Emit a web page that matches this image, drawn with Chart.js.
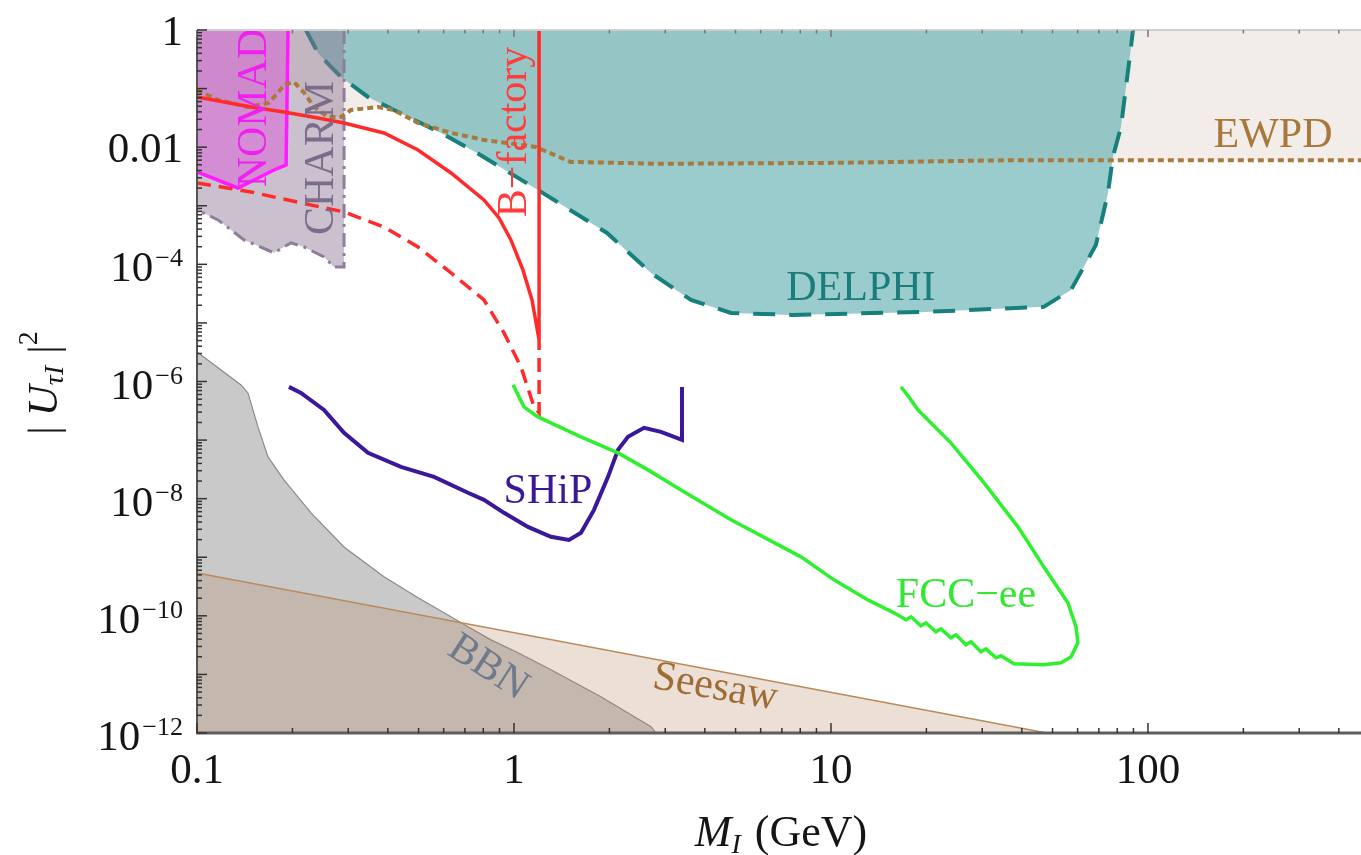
<!DOCTYPE html>
<html>
<head>
<meta charset="utf-8">
<title>|U_tau|^2 vs M</title>
<script src="https://cdn.jsdelivr.net/npm/chart.js@4.4.0/dist/chart.umd.min.js"></script>
<style>
  html, body { margin: 0; padding: 0; background: #fff; }
  #box { position: relative; width: 1361px; height: 855px; }
</style>
</head>
<body>
<div id="box"><canvas id="plot"></canvas></div>
<script>
// Datos: masa M (GeV) y |U|^2

// EWPD (línea punteada, región excluida por encima)
const ewpdMass = [0.1, 0.1165, 0.145, 0.168, 0.18, 0.188, 0.202, 0.218, 0.234, 0.259, 0.285, 0.306, 0.372, 0.418, 0.498, 0.633, 0.804, 1.17, 1.51, 2.89, 10.5, 37.5, 100, 500];
const ewpdU2 = [0.0947, 0.0639, 0.0485, 0.0568, 0.0841, 0.115, 0.13, 0.0841, 0.0485, 0.0328, 0.0328, 0.0431, 0.0485, 0.0431, 0.0259, 0.0175, 0.0133, 0.0101, 0.0056, 0.0052, 0.0054, 0.006, 0.006, 0.006];

// DELPHI (contorno cerrado)
const delphiMass = [0.2207, 0.2408, 0.2647, 0.2846, 0.3462, 0.4183, 0.5884, 0.7643, 1.19, 1.966, 2.705, 3.617, 4.836, 7.53, 19.8, 46.9, 57.2, 68.5, 74.8, 77.5, 82.2, 88.4, 89.7];
const delphiU2 = [1, 0.405, 0.2337, 0.1578, 0.0719, 0.0431, 0.01747, 0.00796, 0.00186, 3.43e-4, 7.13e-5, 2.47e-5, 1.48e-5, 1.37e-5, 1.54e-5, 1.88e-5, 3.66e-5, 2.14e-4, 1.65e-3, 6.8e-3, 0.0221, 0.513, 1];

// CHARM
const charmMass = [0.291, 0.291, 0.2704, 0.2516, 0.2176, 0.1979, 0.188, 0.1749, 0.1407, 0.1165, 0.1, 0.09, 0.09];
const charmU2 = [1, 9.03e-5, 9.03e-5, 1.34e-4, 1.98e-4, 2.32e-4, 1.98e-4, 1.57e-4, 2.61e-4, 5.73e-4, 8.48e-4, 8.48e-4, 1];

// NOMAD
const nomadMass = [0.1937, 0.191, 0.1749, 0.1347, 0.1, 0.09, 0.09];
const nomadU2 = [1, 4.97e-3, 4.08e-3, 2.01e-3, 3.77e-3, 3.77e-3, 1];

// B-factory (continua y discontinua)
const bfacMass = [0.1, 0.148, 0.188, 0.2408, 0.2909, 0.3889, 0.498, 0.633, 0.804, 0.897, 0.978, 1.067, 1.14, 1.2, 1.2];
const bfacU2 = [0.0719, 0.0485, 0.0399, 0.0315, 0.0259, 0.01747, 0.00896, 3.63e-3, 1.256e-3, 6.19e-4, 2.61e-4, 8.02e-5, 2.47e-5, 5.1e-6, 1];
const bfacDashMass = [0.1, 0.148, 0.2128, 0.2909, 0.3889, 0.498, 0.633, 0.804, 0.93, 1.052, 1.157, 1.2, 1.2];
const bfacDashU2 = [2.45e-3, 1.72e-3, 1.12e-3, 7.84e-4, 4.35e-4, 1.98e-4, 7.13e-5, 2.47e-5, 6.75e-6, 1.77e-6, 3.69e-7, 2.91e-7, 5.1e-6];

// FCC-ee
const fccMass = [0.993, 1.075, 1.19, 1.627, 2.128, 2.647, 3.364, 4.836, 8.04, 10.22, 13.08, 15.8, 17.25, 17.88, 19.22, 19.93, 21.44, 22.23, 23.9, 24.8, 26.66, 27.65, 29.73, 30.83, 33.15, 34.38, 37.78, 46.9, 53.2, 57.2, 60.1, 59.3, 55.9, 46.9, 38.9, 30.4, 23.9, 18.8, 17.6, 16.63];
const fccU2 = [8.75e-7, 3.69e-7, 2.49e-7, 1.135e-7, 6.05e-8, 3.1e-8, 1.41e-8, 4.35e-9, 1.016e-9, 4.11e-10, 1.87e-10, 1.125e-10, 8.55e-11, 9.62e-11, 6.75e-11, 7.6e-11, 5.33e-11, 6.0e-11, 4.21e-11, 4.74e-11, 3.2e-11, 3.6e-11, 2.43e-11, 2.73e-11, 1.92e-11, 2.08e-11, 1.52e-11, 1.46e-11, 1.58e-11, 2.0e-11, 3.46e-11, 6.49e-11, 1.67e-10, 6.86e-10, 3.3e-9, 1.86e-8, 8.96e-8, 3.28e-7, 5.46e-7, 8.09e-7];

// SHiP
const shipMass = [0.195, 0.2128, 0.2516, 0.2909, 0.3462, 0.44, 0.5595, 0.716, 0.804, 0.93, 1.107, 1.308, 1.491, 1.627, 1.788, 1.98, 2.128, 2.289, 2.572, 2.909, 3.388, 3.388];
const shipU2 = [8.09e-7, 6.38e-7, 3.28e-7, 1.33e-7, 6.05e-8, 3.49e-8, 2.36e-8, 1.26e-8, 9.55e-9, 5.73e-9, 3.3e-9, 2.23e-9, 1.98e-9, 2.61e-9, 6.44e-9, 2.36e-8, 6.81e-8, 1.135e-7, 1.62e-7, 1.38e-7, 1.01e-7, 8.09e-7];

// BBN (región por debajo)
const bbnMass = [0.1, 0.1377, 0.1448, 0.1557, 0.1675, 0.188, 0.2289, 0.2909, 0.3889, 0.498, 0.6015, 0.716, 0.846, 1.03, 1.308, 1.88, 2.705, 2.85];
const bbnU2 = [3.2e-6, 8.75e-7, 6.38e-7, 1.68e-7, 5.17e-8, 2.09e-8, 5.73e-9, 1.5e-9, 4.63e-10, 2.03e-10, 1.125e-10, 6.49e-11, 3.89e-11, 2.34e-11, 1.2e-11, 4.15e-12, 1.28e-12, 9e-13];

// Seesaw (región por debajo)
const seesawMass = [0.1, 48];
const seesawU2 = [5.4e-10, 1e-12];

// Ejes
const xTickVals = [0.1, 1, 10, 100];
const xTickText = ['0.1', '1', '10', '100'];
const yTickVals = [1, 1e-2, 1e-4, 1e-6, 1e-8, 1e-10, 1e-12];
const yTickBase = ['1', '0.01', '10', '10', '10', '10', '10'];
const yTickExp = ['', '', '\u22124', '\u22126', '\u22128', '\u221210', '\u221212'];

// Etiquetas de las curvas (ancladas en coordenadas de datos)
const curveLabels = [
    { text: 'NOMAD', m: 0.165, u: 0.0467, rot: -90, color: '#ee22ee' },
    { text: 'CHARM', m: 0.2685, u: 0.00654, rot: -90, color: '#7b6c8a' },
    { text: 'B\u2212factory', m: 1.091, u: 0.01817, rot: -90, color: '#ff3b3b' },
    { text: 'DELPHI', m: 12.43, u: 2.47e-5, rot: 0, color: '#1b7d7b' },
    { text: 'EWPD', m: 248, u: 0.0101, rot: 0, color: '#a8773c' },
    { text: 'SHiP', m: 1.28, u: 8.48e-9, rot: 0, color: '#3b1799' },
    { text: 'FCC\u2212ee', m: 26.66, u: 1.425e-10, rot: 0, color: '#33e833' },
    { text: 'BBN', m: 0.828, u: 1.3e-11, rot: 33, color: '#6d7b8c', middle: true },
    { text: 'Seesaw', m: 4.31, u: 5.9e-12, rot: 10, color: '#a06c36', middle: true },
];

const SERIF = '"Liberation Serif", "Times New Roman", serif';

function pts(ms, us) {
    return ms.map((m, i) => ({ x: m, y: us[i] }));
}

// Etiquetas, marcos y marcas de los ejes
const decor = {
    id: 'decor',
    afterDatasetsDraw(chart) {
        const ctx = chart.ctx;
        const xs = chart.scales.x, ys = chart.scales.y;
        curveLabels.forEach(l => {
            ctx.save();
            ctx.translate(xs.getPixelForValue(l.m), ys.getPixelForValue(l.u));
            ctx.rotate(l.rot * Math.PI / 180);
            ctx.font = `42px ${SERIF}`;
            ctx.fillStyle = l.color;
            ctx.textAlign = 'center';
            ctx.textBaseline = l.middle ? 'middle' : 'alphabetic';
            ctx.fillText(l.text, 0, 0);
            ctx.restore();
        });
    },
    afterDraw(chart) {
        const ctx = chart.ctx;
        const ca = chart.chartArea;
        const xs = chart.scales.x, ys = chart.scales.y;
        const seg = (x1, y1, x2, y2) => { ctx.beginPath(); ctx.moveTo(x1, y1); ctx.lineTo(x2, y2); ctx.stroke(); };
        ctx.save();

        // marco
        ctx.strokeStyle = '#cfcfcf'; ctx.lineWidth = 2;
        seg(ca.left, ca.top, ca.right, ca.top);
        ctx.strokeStyle = '#555'; ctx.lineWidth = 2;
        seg(ca.left, ca.top, ca.left, ca.bottom + 1);
        ctx.strokeStyle = '#5e5e5e'; ctx.lineWidth = 3;
        seg(ca.left - 1, ca.bottom, ca.right, ca.bottom);

        // marcas del eje x
        ctx.lineWidth = 1.5;
        for (let d = -1; d <= 2; d++) {
            for (let k = 1; k <= 9; k++) {
                const v = k * Math.pow(10, d);
                if (v < xs.min || v > xs.max) continue;
                const p = xs.getPixelForValue(v);
                const len = k === 1 ? 10 : 5;
                ctx.strokeStyle = '#333';
                seg(p, ca.bottom, p, ca.bottom - len);
                ctx.strokeStyle = '#777';
                seg(p, ca.top, p, ca.top + len * 0.7);
            }
        }
        // marcas del eje y
        for (let d = -12; d <= 0; d++) {
            for (let k = 1; k <= 9; k++) {
                const v = k * Math.pow(10, d);
                if (v > ys.max) continue;
                const p = ys.getPixelForValue(v);
                const len = k === 1 ? 10 : 5;
                ctx.strokeStyle = '#333';
                seg(ca.left, p, ca.left + len, p);
            }
        }

        // etiquetas de las marcas
        ctx.fillStyle = '#151515';
        ctx.textBaseline = 'alphabetic';
        ctx.font = `43px ${SERIF}`;
        ctx.textAlign = 'center';
        xTickVals.forEach((v, i) => {
            ctx.fillText(xTickText[i], xs.getPixelForValue(v), ca.bottom + 50);
        });
        const right = ca.left - 14;
        yTickVals.forEach((v, i) => {
            const p = ys.getPixelForValue(v);
            if (yTickExp[i]) {
                ctx.font = `26px ${SERIF}`;
                const we = ctx.measureText(yTickExp[i]).width;
                ctx.font = `43px ${SERIF}`;
                const wb = ctx.measureText(yTickBase[i]).width;
                ctx.textAlign = 'left';
                ctx.fillText(yTickBase[i], right - we - wb - 2, p + 17);
                ctx.font = `26px ${SERIF}`;
                ctx.fillText(yTickExp[i], right - we, p + 2);
            } else {
                ctx.font = `43px ${SERIF}`;
                ctx.textAlign = 'right';
                ctx.fillText(yTickBase[i], right, p + 15);
            }
        });

        // títulos de los ejes, con subíndices
        const drawParts = (parts, cx, cy, rot) => {
            ctx.save();
            ctx.translate(cx, cy);
            ctx.rotate(rot);
            ctx.textAlign = 'left';
            let total = 0;
            parts.forEach(p => {
                ctx.font = p.font;
                p.w = ctx.measureText(p.t).width + (p.gap || 0);
                total += p.w;
            });
            let x = -total / 2;
            parts.forEach(p => {
                ctx.font = p.font;
                ctx.fillText(p.t, x, p.dy || 0);
                x += p.w;
            });
            ctx.restore();
        };
        drawParts([
            { t: 'M', font: `italic 44px ${SERIF}` },
            { t: 'I', font: `italic 28px ${SERIF}`, dy: 7, gap: 14 },
            { t: '(GeV)', font: `44px ${SERIF}` },
        ], (ca.left + ca.right) / 2 + 2, ca.bottom + 113, 0);
        drawParts([
            { t: '|', font: `43px ${SERIF}`, gap: 10 },
            { t: 'U', font: `italic 43px ${SERIF}` },
            { t: '\u03c4I', font: `italic 28px ${SERIF}`, dy: 6, gap: 12 },
            { t: '|', font: `43px ${SERIF}` },
            { t: '2', font: `28px ${SERIF}`, dy: -20 },
        ], 57, 383, -Math.PI / 2);

        ctx.restore();
    }
};

new Chart(document.getElementById('plot'), {
    type: 'line',
    data: {
        datasets: [
            { label: 'EWPD region', data: pts(ewpdMass, ewpdU2), fill: 'end', backgroundColor: '#f2ede8', borderColor: 'transparent', borderWidth: 0, order: 20 },
            { label: 'DELPHI', data: pts(delphiMass, delphiU2), fill: 'shape', backgroundColor: 'rgba(100,175,178,0.65)', borderColor: '#17807d', borderWidth: 4, borderDash: [22, 14], order: 19 },
            { label: 'CHARM', data: pts(charmMass, charmU2), fill: 'shape', backgroundColor: 'rgba(140,115,145,0.45)', borderColor: '#8d7f9b', borderWidth: 3, borderDash: [14, 6, 3, 6], order: 18 },
            { label: 'NOMAD', data: pts(nomadMass, nomadU2), fill: 'shape', backgroundColor: 'rgba(220,80,220,0.45)', borderColor: '#ff1aff', borderWidth: 3.5, order: 17 },
            { label: 'BBN', data: pts(bbnMass, bbnU2), fill: 'start', backgroundColor: 'rgba(120,120,120,0.4)', borderColor: '#8a8a8a', borderWidth: 1.2, order: 16 },
            { label: 'Seesaw', data: pts(seesawMass, seesawU2), fill: 'start', backgroundColor: 'rgba(180,130,90,0.25)', borderColor: '#b88a5c', borderWidth: 1.5, order: 15 },
            { label: 'EWPD', data: pts(ewpdMass, ewpdU2), fill: false, borderColor: '#a87a3e', borderWidth: 4, borderDash: [6, 4], order: 10 },
            { label: 'B-factory (dashed)', data: pts(bfacDashMass, bfacDashU2), fill: false, borderColor: '#ff2b2b', borderWidth: 3.5, borderDash: [14, 8], order: 9 },
            { label: 'B-factory', data: pts(bfacMass, bfacU2), fill: false, borderColor: '#ff2b2b', borderWidth: 3.5, order: 8 },
            { label: 'SHiP', data: pts(shipMass, shipU2), fill: false, borderColor: '#3b1799', borderWidth: 4, order: 7 },
            { label: 'FCC-ee', data: pts(fccMass, fccU2), fill: false, borderColor: '#2ef02e', borderWidth: 3.5, order: 6 },
        ],
    },
    options: {
        responsive: true,
        maintainAspectRatio: false,
        animation: false,
        events: [],
        layout: { padding: { left: 197, top: 30, right: 0, bottom: 122 } },
        elements: { point: { radius: 0 }, line: { tension: 0 } },
        plugins: { legend: { display: false }, tooltip: { enabled: false } },
        scales: {
            x: { type: 'logarithmic', min: 0.1, max: 470, display: false },
            y: { type: 'logarithmic', min: 1e-12, max: 1, display: false },
        },
    },
    plugins: [decor],
});
</script>
</body>
</html>
